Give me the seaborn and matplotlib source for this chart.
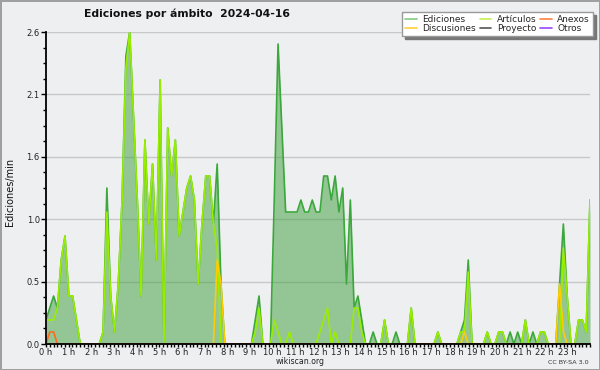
import numpy as np
import pandas as pd
import matplotlib
matplotlib.use("Agg")
import matplotlib.pyplot as plt
from matplotlib.lines import Line2D
from matplotlib.ticker import MultipleLocator
import seaborn as sns

# ---- data (edits per minute, 10-minute bins over the day) ----
title = "Ediciones por ámbito  2024-04-16"
hour_labels = [f"{h} h" for h in range(24)]
ytick_values = [0.0, 0.52, 1.04, 1.56, 2.08, 2.6]
ytick_labels = ["0.0", "0.5", "1.0", "1.6", "2.1", "2.6"]

ediciones = [
    0.2, 0.3, 0.4, 0.3, 0.7, 0.9, 0.4, 0.4, 0.2, 0.0, 0.0, 0.0,
    0.0, 0.0, 0.0, 0.1, 1.3, 0.4, 0.1, 0.5, 1.2, 2.4, 2.6, 1.9,
    1.2, 0.4, 1.7, 1.0, 1.5, 0.7, 2.2, 0.0, 1.8, 1.4, 1.7, 0.9,
    1.1, 1.3, 1.4, 1.2, 0.5, 1.0, 1.4, 1.4, 1.0, 1.5, 0.5, 0.0,
    0.0, 0.0, 0.0, 0.0, 0.0, 0.0, 0.0, 0.2, 0.4, 0.0, 0.0, 0.0,
    1.2, 2.5, 1.8, 1.1, 1.1, 1.1, 1.1, 1.2, 1.1, 1.1, 1.2, 1.1,
    1.1, 1.4, 1.4, 1.2, 1.4, 1.1, 1.3, 0.5, 1.2, 0.3, 0.4, 0.2,
    0.0, 0.0, 0.1, 0.0, 0.0, 0.2, 0.0, 0.0, 0.1, 0.0, 0.0, 0.0,
    0.3, 0.0, 0.0, 0.0, 0.0, 0.0, 0.0, 0.1, 0.0, 0.0, 0.0, 0.0,
    0.0, 0.1, 0.2, 0.7, 0.0, 0.0, 0.0, 0.0, 0.1, 0.0, 0.0, 0.1,
    0.1, 0.0, 0.1, 0.0, 0.1, 0.0, 0.2, 0.0, 0.1, 0.0, 0.1, 0.1,
    0.0, 0.0, 0.0, 0.5, 1.0, 0.4, 0.0, 0.0, 0.2, 0.2, 0.1, 1.2,
]
articulos = [
    0.2, 0.2, 0.2, 0.3, 0.7, 0.9, 0.4, 0.4, 0.2, 0.0, 0.0, 0.0,
    0.0, 0.0, 0.0, 0.1, 1.1, 0.4, 0.1, 0.5, 1.2, 2.3, 2.6, 1.9,
    1.2, 0.4, 1.7, 1.0, 1.5, 0.7, 2.2, 0.0, 1.8, 1.4, 1.7, 0.9,
    1.1, 1.3, 1.4, 1.2, 0.5, 1.0, 1.4, 1.4, 1.0, 0.8, 0.0, 0.0,
    0.0, 0.0, 0.0, 0.0, 0.0, 0.0, 0.0, 0.1, 0.3, 0.0, 0.0, 0.0,
    0.2, 0.1, 0.0, 0.0, 0.1, 0.0, 0.0, 0.0, 0.0, 0.0, 0.0, 0.0,
    0.1, 0.2, 0.3, 0.0, 0.1, 0.0, 0.0, 0.0, 0.0, 0.3, 0.3, 0.1,
    0.0, 0.0, 0.0, 0.0, 0.0, 0.2, 0.0, 0.0, 0.0, 0.0, 0.0, 0.0,
    0.3, 0.0, 0.0, 0.0, 0.0, 0.0, 0.0, 0.1, 0.0, 0.0, 0.0, 0.0,
    0.0, 0.1, 0.1, 0.6, 0.0, 0.0, 0.0, 0.0, 0.1, 0.0, 0.0, 0.1,
    0.1, 0.0, 0.0, 0.0, 0.0, 0.0, 0.2, 0.0, 0.0, 0.0, 0.1, 0.1,
    0.0, 0.0, 0.0, 0.0, 0.8, 0.4, 0.0, 0.0, 0.2, 0.2, 0.1, 1.2,
]
discusiones = [
    0.0, 0.0, 0.0, 0.0, 0.0, 0.0, 0.0, 0.0, 0.0, 0.0, 0.0, 0.0,
    0.0, 0.0, 0.0, 0.0, 0.0, 0.0, 0.0, 0.0, 0.0, 0.0, 0.0, 0.0,
    0.0, 0.0, 0.0, 0.0, 0.0, 0.0, 0.0, 0.0, 0.0, 0.0, 0.0, 0.0,
    0.0, 0.0, 0.0, 0.0, 0.0, 0.0, 0.0, 0.0, 0.0, 0.7, 0.5, 0.0,
    0.0, 0.0, 0.0, 0.0, 0.0, 0.0, 0.0, 0.0, 0.0, 0.0, 0.0, 0.0,
    0.0, 0.0, 0.0, 0.0, 0.0, 0.0, 0.0, 0.0, 0.0, 0.0, 0.0, 0.0,
    0.0, 0.0, 0.0, 0.0, 0.0, 0.0, 0.0, 0.0, 0.0, 0.0, 0.0, 0.0,
    0.0, 0.0, 0.0, 0.0, 0.0, 0.0, 0.0, 0.0, 0.0, 0.0, 0.0, 0.0,
    0.0, 0.0, 0.0, 0.0, 0.0, 0.0, 0.0, 0.0, 0.0, 0.0, 0.0, 0.0,
    0.0, 0.0, 0.1, 0.0, 0.0, 0.0, 0.0, 0.0, 0.0, 0.0, 0.0, 0.0,
    0.0, 0.0, 0.0, 0.0, 0.0, 0.0, 0.0, 0.0, 0.0, 0.0, 0.0, 0.0,
    0.0, 0.0, 0.0, 0.5, 0.1, 0.0, 0.0, 0.0, 0.0, 0.0, 0.0, 0.0,
]
anexos = [0.0, 0.1, 0.1] + [0.0] * 141
proyecto = [0.0] * 144
otros = [0.0] * 144

# colours: plotted line / legend swatch
line_colors = {
    "Otros": "#9933ff",
    "Proyecto": "#555555",
    "Ediciones": "#3aa83a",
    "Artículos": "#99ee00",
    "Discusiones": "#ffcc00",
    "Anexos": "#ff6a1a",
}
legend_colors = {
    "Ediciones": "#80cc80",
    "Discusiones": "#ffd040",
    "Artículos": "#c8ee50",
    "Proyecto": "#555555",
    "Anexos": "#ff8040",
    "Otros": "#9944ff",
}
bg = "#eeeff0"

hours = np.linspace(0, 24, len(ediciones))
series = {
    "Otros": otros,
    "Proyecto": proyecto,
    "Ediciones": ediciones,
    "Artículos": articulos,
    "Discusiones": discusiones,
    "Anexos": anexos,
}
df = pd.concat(
    [pd.DataFrame({"hora": hours, "valor": vals, "ambito": name})
     for name, vals in series.items()],
    ignore_index=True,
)

sns.set_theme(style="white")
plt.rcParams["font.family"] = ["DejaVu Sans"]

fig = plt.figure(figsize=(6, 3.7), dpi=100, facecolor=bg,
                 edgecolor="#a0a0a0", linewidth=2)
ax = fig.add_axes([46 / 600, 1 - 344 / 370, 544 / 600, 312 / 370])
ax.set_facecolor(bg)

# area under total edits
ax.fill_between(hours, ediciones, 0, color="#3c9e3c", alpha=0.5,
                linewidth=0, zorder=1.5)
sns.lineplot(data=df, x="hora", y="valor", hue="ambito",
             hue_order=list(series.keys()), palette=line_colors,
             linewidth=1.2, legend=False, ax=ax, zorder=2)

ax.set_xlim(0, 24)
ax.set_ylim(0, 2.6)
ax.set_xlabel("")
ax.set_ylabel("")

ax.set_xticks(range(24))
ax.set_xticklabels(hour_labels, fontsize=6)
ax.xaxis.set_minor_locator(MultipleLocator(1 / 6))
ax.set_yticks(ytick_values)
ax.set_yticklabels(ytick_labels, fontsize=6)
ax.yaxis.set_minor_locator(MultipleLocator(0.13))
ax.tick_params(axis="both", which="major", direction="out", length=2.5,
               width=1, color="black", pad=0.5, labelcolor="#222222")
ax.tick_params(axis="both", which="minor", direction="out", length=2.2,
               width=1, color="black")
ax.tick_params(axis="x", which="both", bottom=True)
ax.tick_params(axis="y", which="both", left=True)
ax.tick_params(axis="y", which="major", length=3.5, pad=1)

ax.yaxis.grid(True, color="#c8c8c8", linewidth=1)
ax.xaxis.grid(False)
ax.set_axisbelow(True)
for side in ["top", "right"]:
    ax.spines[side].set_visible(False)
for side in ["left", "bottom"]:
    ax.spines[side].set_color("black")
    ax.spines[side].set_linewidth(1.3)
    ax.spines[side].set_zorder(5)

fig.text(187 / 600, 1 - 14 / 370, title, ha="center", va="center",
         fontsize=7.8, fontweight="bold", color="#111111")
fig.text(10 / 600, 1 - 192 / 370, "Ediciones/min", rotation=90,
         ha="center", va="center", fontsize=7, color="#111111")
fig.text(300 / 600, 1 - 362 / 370, "wikiscan.org", ha="center",
         va="center", fontsize=5.6, color="#222222")
fig.text(589 / 600, 1 - 362 / 370, "CC BY-SA 3.0", ha="right",
         va="center", fontsize=4.6, color="#333333")

legend_order = ["Ediciones", "Discusiones", "Artículos", "Proyecto",
                "Anexos", "Otros"]
handles = [Line2D([], [], color=legend_colors[n], linewidth=1.2)
           for n in legend_order]
leg = fig.legend(handles, legend_order, ncol=3, loc="upper right",
                 bbox_to_anchor=(593 / 600, 1 - 12 / 370),
                 fontsize=6.5, frameon=True, fancybox=False,
                 shadow={"color": "#777777", "alpha": 1},
                 handlelength=1.3, handletextpad=0.6, columnspacing=0.4,
                 labelspacing=0.0, borderpad=0.35, borderaxespad=0)
leg.get_frame().set_facecolor("white")
leg.get_frame().set_edgecolor("#999999")
leg.get_frame().set_linewidth(1)
leg.get_frame().set_alpha(1)

fig.savefig("out.png", dpi=100, facecolor=bg)
